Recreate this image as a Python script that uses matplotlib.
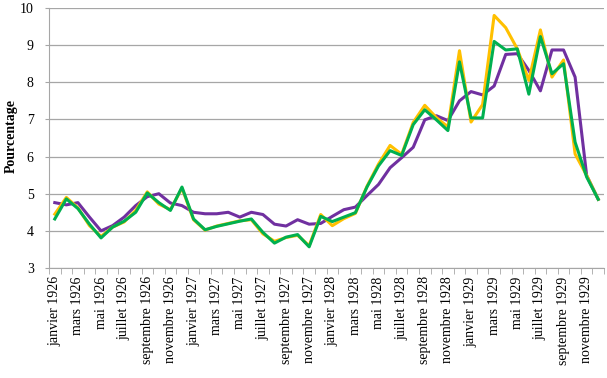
import numpy as np
from matplotlib import pyplot as plt

months = ["janvier", "février", "mars", "avril", "mai", "juin", "juillet",
          "août", "septembre", "octobre", "novembre", "décembre"]
years = [1926, 1927, 1928, 1929]
categories = [f"{m} {y}" for y in years for m in months]

purple = [4.76, 4.70, 4.76, 4.37, 4.00, 4.14, 4.37, 4.68, 4.92, 5.00, 4.75, 4.68,
          4.50, 4.46, 4.46, 4.50, 4.37, 4.50, 4.44, 4.18, 4.13, 4.30, 4.18, 4.20,
          4.39, 4.57, 4.64, 4.95, 5.25, 5.70, 5.97, 6.25, 6.99, 7.10, 6.97, 7.50,
          7.75, 7.66, 7.90, 8.75, 8.77, 8.32, 7.77, 8.87, 8.87, 8.14, 5.49, 4.85]
yellow = [4.45, 4.90, 4.62, 4.14, 3.85, 4.10, 4.24, 4.55, 5.05, 4.72, 4.57, 5.15,
          4.30, 4.02, 4.13, 4.20, 4.27, 4.30, 3.92, 3.72, 3.82, 3.88, 3.60, 4.44,
          4.14, 4.33, 4.47, 5.20, 5.80, 6.30, 6.06, 6.92, 7.38, 7.05, 6.80, 8.85,
          6.93, 7.40, 9.80, 9.47, 8.90, 8.05, 9.41, 8.14, 8.60, 6.07, 5.49, 4.85]
green = [4.32, 4.86, 4.60, 4.18, 3.81, 4.10, 4.26, 4.50, 5.02, 4.76, 4.55, 5.18,
         4.32, 4.03, 4.12, 4.19, 4.26, 4.32, 3.96, 3.67, 3.83, 3.90, 3.57, 4.39,
         4.25, 4.37, 4.49, 5.18, 5.75, 6.16, 6.03, 6.86, 7.26, 6.99, 6.70, 8.55,
         7.04, 7.04, 9.10, 8.87, 8.90, 7.68, 9.23, 8.23, 8.50, 6.39, 5.45, 4.85]

plt.rcParams['font.family'] = ['Liberation Serif', 'DejaVu Serif']

fig = plt.figure(figsize=(6.07, 3.78), dpi=100)
ax = fig.add_axes([49 / 607, 1 - 268 / 378, 555 / 607, 260 / 378])

x = np.arange(len(categories))
ax.plot(x, purple, color="#7030A0", linewidth=2.2, zorder=3)
ax.plot(x, yellow, color="#FFC000", linewidth=2.2, zorder=4)
ax.plot(x, green, color="#00B050", linewidth=2.2, zorder=5)

ax.set_xlim(-0.5, len(categories) - 0.5)
ax.set_ylim(3, 10)
ax.set_yticks(range(3, 11))
ax.yaxis.grid(True, color="#a6a6a6", linewidth=0.9)
ax.set_axisbelow(True)

ax.set_xticks(x[::2])
ax.set_xticklabels(categories[::2], rotation=90, fontsize=10)
ax.set_xticks(np.arange(-0.5, len(categories)), minor=True)
ax.tick_params(axis="x", which="major", length=0, pad=6)
ax.tick_params(axis="x", which="minor", length=4, color="#a6a6a6")
ax.tick_params(axis="y", length=3, color="#a6a6a6", labelsize=10, pad=8)

for s in ["top", "right"]:
    ax.spines[s].set_visible(False)
for s in ["left", "bottom"]:
    ax.spines[s].set_color("#a6a6a6")

# y label placed by hand so it stays inside the figure
fig.text(11 / 607, 1 - 136 / 378, "Pourcentage", rotation=90, fontsize=10,
         fontweight="bold", ha="center", va="center")

fig.savefig("out.png", dpi=100)
